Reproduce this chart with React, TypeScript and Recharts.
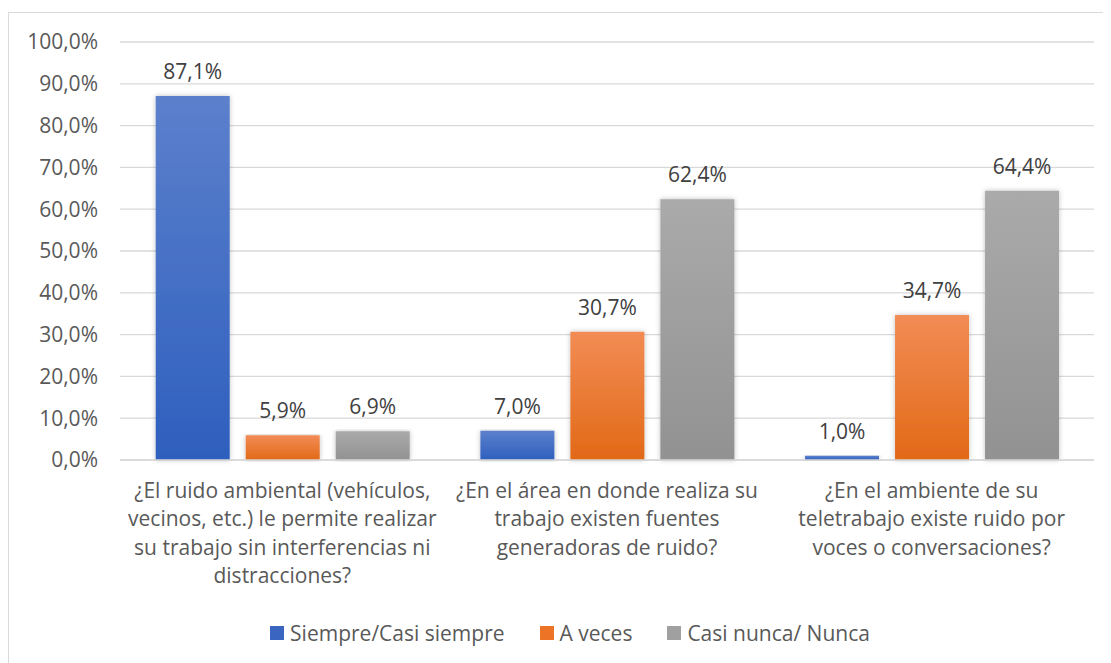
import { BarChart, Bar, XAxis, YAxis, CartesianGrid, LabelList, Legend } from 'recharts';

// categorías (preguntas), en líneas como aparecen bajo el eje
const categoryLines: string[][] = [
  ['¿El ruido ambiental (vehículos,', 'vecinos, etc.) le permite realizar', 'su trabajo sin interferencias ni', 'distracciones?'],
  ['¿En el área en donde realiza su', 'trabajo existen fuentes', 'generadoras de ruido?'],
  ['¿En el ambiente de su', 'teletrabajo existe ruido por', 'voces o conversaciones?'],
];

const siempre = [87.1, 7.0, 1.0];
const aVeces = [5.9, 30.7, 34.7];
const nunca = [6.9, 62.4, 64.4];

const yTicks = [0, 10, 20, 30, 40, 50, 60, 70, 80, 90, 100];

const seriesInfo = [
  { key: 'siempre', name: 'Siempre/Casi siempre', top: '#5c80cc', bottom: '#2e5fbe', swatch: '#3a66c2' },
  { key: 'aVeces', name: 'A veces', top: '#f28c55', bottom: '#e26917', swatch: '#ed7426' },
  { key: 'nunca', name: 'Casi nunca/ Nunca', top: '#aaaaaa', bottom: '#929292', swatch: '#a0a0a0' },
];

const data = categoryLines.map((lines, i) => ({
  category: lines.join(' '),
  siempre: siempre[i],
  aVeces: aVeces[i],
  nunca: nunca[i],
}));

const FONT = '"Open Sans", "Noto Sans", sans-serif';
const FS = 21;
const pct = (v: number) => `${v.toFixed(1).replace('.', ',')}%`;

const CategoryTick = (props: any) => {
  const { x, y, payload } = props;
  const lines = categoryLines[payload.index] || [];
  return (
    <text x={x} y={y} textAnchor="middle" fill="#595959" fontSize={FS} fontFamily={FONT}>
      {lines.map((l, i) => (
        <tspan key={i} x={x} dy={i === 0 ? 38 : 28.4}>
          {l}
        </tspan>
      ))}
    </text>
  );
};

const LegendContent = () => (
  <div
    style={{
      display: 'flex',
      justifyContent: 'center',
      alignItems: 'center',
      height: 34,
      gap: 35,
      fontFamily: FONT,
      fontSize: FS,
      color: '#595959',
      paddingLeft: 38,
    }}
  >
    {seriesInfo.map((s) => (
      <div key={s.key} style={{ display: 'flex', alignItems: 'center', gap: 6 }}>
        <span style={{ width: 14, height: 14, background: s.swatch, display: 'inline-block' }} />
        <span>{s.name}</span>
      </div>
    ))}
  </div>
);

export default function App() {
  return (
    <div style={{ position: 'relative', width: 1103, height: 655, fontFamily: FONT }}>
      <div
        style={{
          position: 'absolute',
          left: 0,
          top: 4,
          right: -20,
          bottom: -20,
          borderTop: '1.5px solid #d9d9d9',
          borderLeft: '1.5px solid #d9d9d9',
        }}
      />
      <BarChart
        width={1103}
        height={655}
        data={data}
        margin={{ top: 34, right: 17, left: 0, bottom: 13 }}
        barGap={16}
        barCategoryGap="11%"
        style={{ position: 'absolute', left: 0, top: 0 }}
      >
        <defs>
          {seriesInfo.map((s) => (
            <linearGradient key={s.key} id={`grad-${s.key}`} x1="0" y1="0" x2="0" y2="1">
              <stop offset="0%" stopColor={s.top} />
              <stop offset="100%" stopColor={s.bottom} />
            </linearGradient>
          ))}
          <filter id="barShadow" x="-20%" y="-5%" width="140%" height="110%">
            <feDropShadow dx="0" dy="0" stdDeviation="2.5" floodColor="#000" floodOpacity="0.25" />
          </filter>
        </defs>
        <CartesianGrid vertical={false} stroke="#d9d9d9" strokeWidth={1.3} />
        <XAxis
          dataKey="category"
          axisLine={{ stroke: '#d9d9d9', strokeWidth: 1.3 }}
          tickLine={false}
          tickSize={0}
          tickMargin={0}
          interval={0}
          height={156}
          tick={<CategoryTick />}
        />
        <YAxis
          domain={[0, 100]}
          ticks={yTicks}
          width={112}
          axisLine={false}
          tickLine={false}
          tickSize={0}
          tickMargin={22}
          tickFormatter={(v: number) => pct(v)}
          tick={{ fill: '#595959', fontSize: FS, fontFamily: FONT }}
          interval={0}
        />
        <Legend verticalAlign="bottom" align="center" height={34} content={<LegendContent />} />
        {seriesInfo.map((s) => (
          <Bar
            key={s.key}
            dataKey={s.key}
            name={s.name}
            fill={`url(#grad-${s.key})`}
            filter="url(#barShadow)"
            isAnimationActive={false}
          >
            <LabelList
              dataKey={s.key}
              position="top"
              offset={17}
              formatter={(v: any) => pct(Number(v))}
              style={{ fill: '#404040', fontSize: FS, fontFamily: FONT }}
            />
          </Bar>
        ))}
      </BarChart>
    </div>
  );
}
